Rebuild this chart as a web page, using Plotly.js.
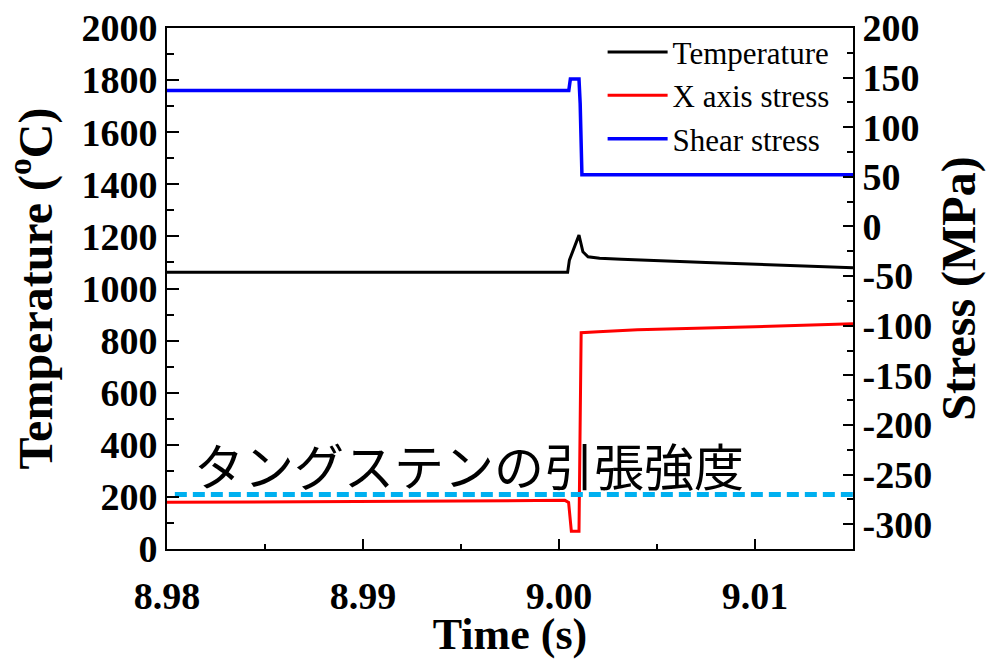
<!DOCTYPE html>
<html>
<head>
<meta charset="utf-8">
<script src="https://cdn.plot.ly/plotly-3.0.1.min.js"></script>
<style>html,body{margin:0;padding:0;background:#fff;}#chart{width:987px;height:659px;}</style>
</head>
<body>
<div id="chart"></div>
<script>
// Temperature (left axis, °C)
var tempTime = [8.98, 9.00044, 9.00053, 9.00102, 9.00122, 9.00148, 9.00207, 9.00318, 9.0075, 9.0115, 9.015];
var tempVal  = [1062, 1062, 1109, 1205, 1141, 1122, 1116, 1112, 1100, 1088, 1080];

// X axis stress (right axis, MPa)
var xStressTime = [8.98, 9.0003, 9.00049, 9.00063, 9.00102, 9.00110, 9.00113, 9.0020, 9.0040, 9.0100, 9.015];
var xStressVal  = [-278, -276, -278, -307, -307, -155, -107, -106, -104, -101, -98];

// Shear stress (right axis, MPa)
var shearTime = [8.98, 9.00050, 9.00058, 9.00102, 9.00108, 9.00112, 9.00117, 9.015];
var shearVal  = [137, 137, 148.5, 148.5, 124, 77, 52, 52];

// Tungsten tensile strength reference line (right axis, MPa)
var strengthTime = [8.9804, 9.015];
var strengthVal  = [-270, -270];

var seriesNames = ['Temperature', 'X axis stress', 'Shear stress'];
var annotationText = 'タングステンの引張強度';

// Right axis tick labels (hyphen-minus as in the original)
var rightTickVals = [-300, -250, -200, -150, -100, -50, 0, 50, 100, 150, 200];
var rightTickText = ['-300', '-250', '-200', '-150', '-100', '-50', '0', '50', '100', '150', '200'];

var serif = 'Liberation Serif, Times New Roman, serif';

var traces = [
  {x: tempTime, y: tempVal, name: seriesNames[0], type: 'scatter', mode: 'lines',
   line: {color: '#000000', width: 3}, yaxis: 'y'},
  {x: xStressTime, y: xStressVal, name: seriesNames[1], type: 'scatter', mode: 'lines',
   line: {color: '#ff0000', width: 3}, yaxis: 'y2'},
  {x: shearTime, y: shearVal, name: seriesNames[2], type: 'scatter', mode: 'lines',
   line: {color: '#0000ff', width: 3.5}, yaxis: 'y2'},
  {x: strengthTime, y: strengthVal, name: 'strength', type: 'scatter', mode: 'lines',
   line: {color: '#00b0f0', width: 5, dash: '12px,6px'}, yaxis: 'y2', showlegend: false}
];

var tickFont = {family: serif, size: 38, color: '#000', weight: 'bold'};
var xTitleFont = {family: serif, size: 44, color: '#000', weight: 'bold'};
var yTitleFont = {family: serif, size: 48, color: '#000', weight: 'bold'};

var layout = {
  width: 987, height: 659,
  margin: {l: 167, r: 134, t: 28, b: 110},
  paper_bgcolor: '#fff', plot_bgcolor: '#fff',
  showlegend: true,
  legend: {x: 0.635, xanchor: 'left', y: 1.005, yanchor: 'top', bgcolor: 'rgba(0,0,0,0)',
           font: {family: serif, size: 31, color: '#000'}, itemwidth: 60, tracegroupgap: 0},
  xaxis: {
    range: [8.98, 9.015], dtick: 0.01, tick0: 8.98, tickformat: '.2f',
    showgrid: false, zeroline: false, showline: true, linecolor: '#000', linewidth: 2, mirror: true,
    ticks: 'inside', ticklen: 10, tickwidth: 2, tickcolor: '#000', ticklabelstandoff: 12,
    minor: {dtick: 0.005, ticks: 'inside', ticklen: 5, tickwidth: 2, tickcolor: '#000', showgrid: false},
    tickfont: tickFont,
    title: {text: 'Time (s)', font: xTitleFont, standoff: 4}
  },
  yaxis: {
    range: [0, 2000], dtick: 200, tick0: 0,
    showgrid: false, zeroline: false, showline: true, linecolor: '#000', linewidth: 2,
    ticks: 'inside', ticklen: 12, tickwidth: 2, tickcolor: '#000',
    minor: {dtick: 100, ticks: 'inside', ticklen: 7, tickwidth: 2, tickcolor: '#000', showgrid: false},
    tickfont: tickFont,
    title: {text: 'Temperature (<sup>o</sup>C)', font: yTitleFont, standoff: 14}
  },
  yaxis2: {
    overlaying: 'y', side: 'right', anchor: 'x',
    range: [-325, 200], tickmode: 'array', tickvals: rightTickVals, ticktext: rightTickText,
    showgrid: false, zeroline: false, showline: true, linecolor: '#000', linewidth: 2,
    ticks: 'inside', ticklen: 10, tickwidth: 2, tickcolor: '#000',
    minor: {dtick: 25, tick0: 0, ticks: 'inside', ticklen: 6, tickwidth: 2, tickcolor: '#000', showgrid: false},
    tickfont: tickFont,
    title: {text: 'Stress (MPa)', font: yTitleFont, standoff: 10}
  },
  annotations: [{
    xref: 'paper', yref: 'paper', x: 0.036, y: 0.164, xanchor: 'left', yanchor: 'middle',
    text: annotationText, showarrow: false,
    font: {family: 'Noto Sans CJK JP', size: 50, color: '#000'}
  }]
};

Plotly.newPlot('chart', traces, layout, {displayModeBar: false, staticPlot: true});
</script>
</body>
</html>
